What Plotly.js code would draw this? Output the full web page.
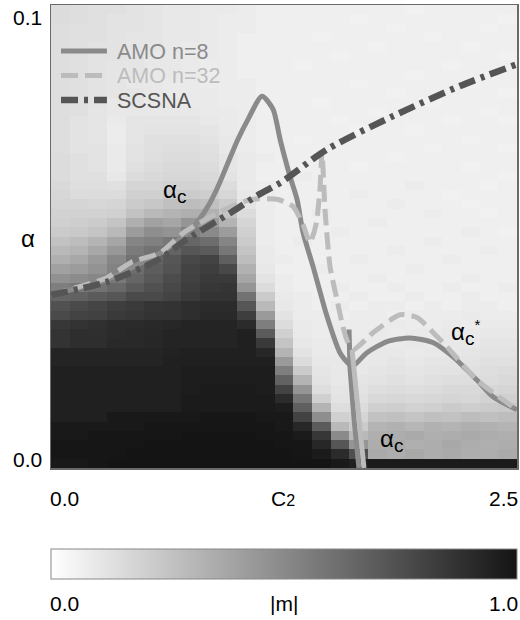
<!DOCTYPE html>
<html>
<head>
<meta charset="utf-8">
<script src="https://cdn.plot.ly/plotly-3.0.1.min.js"></script>
<style>
  html, body { margin: 0; padding: 0; background: #ffffff; }
  #chart { width: 520px; height: 620px; }
</style>
</head>
<body>
<div id="chart"></div>
<script>
// Grid of the simulation: coupling C2 (columns) and load alpha (rows)
const c2Centers = [0.05, 0.15, 0.25, 0.35, 0.45, 0.55, 0.65, 0.75, 0.85, 0.95,
                   1.05, 1.15, 1.25, 1.35, 1.45, 1.55, 1.65, 1.75, 1.85, 1.95,
                   2.05, 2.15, 2.25, 2.35, 2.45];
const alphaCenters = [0.001, 0.003, 0.005, 0.007, 0.009, 0.011, 0.013, 0.015, 0.017, 0.019,
                      0.021, 0.023, 0.025, 0.027, 0.029, 0.031, 0.033, 0.035, 0.037, 0.039,
                      0.041, 0.043, 0.045, 0.047, 0.049, 0.051, 0.053, 0.055, 0.057, 0.059,
                      0.061, 0.063, 0.065, 0.067, 0.069, 0.071, 0.073, 0.075, 0.077, 0.079,
                      0.081, 0.083, 0.085, 0.087, 0.089, 0.091, 0.093, 0.095, 0.097, 0.099];

// Overlap |m|, one row per alpha value (lowest alpha first)
const overlapM = [
  [0.98,0.98,0.99,1,1,1,1,1,1,1,1,1,1,1,1,0.98,0.95,0.97,0.97,0.97,0.97,0.97,0.97,0.97,0.97],
  [0.99,0.99,0.99,0.99,1,1,1,1,1,1,1,1,1,0.99,0.97,0.9,0.75,0.36,0.35,0.37,0.35,0.36,0.34,0.35,0.36],
  [0.99,0.99,0.99,0.99,0.99,1,1,1,1,1,1,1,0.99,0.99,0.92,0.72,0.45,0.35,0.36,0.34,0.35,0.37,0.35,0.34,0.35],
  [0.98,0.98,0.99,0.99,0.99,0.99,0.99,1,1,1,1,0.99,0.99,0.97,0.85,0.5,0.3,0.34,0.35,0.36,0.34,0.35,0.36,0.35,0.34],
  [0.98,0.98,0.98,0.98,0.98,0.99,0.99,0.99,0.99,0.99,0.99,0.99,0.98,0.92,0.7,0.3,0.22,0.32,0.33,0.31,0.33,0.32,0.34,0.33,0.32],
  [0.95,0.95,0.95,0.98,0.98,0.98,0.98,0.98,0.99,0.99,0.99,0.98,0.98,0.8,0.48,0.2,0.18,0.26,0.27,0.25,0.27,0.26,0.28,0.27,0.28],
  [0.95,0.95,0.95,0.95,0.95,0.95,0.95,0.97,0.97,0.97,0.97,0.97,0.96,0.68,0.32,0.14,0.15,0.2,0.21,0.19,0.2,0.22,0.21,0.22,0.23],
  [0.95,0.95,0.95,0.95,0.95,0.95,0.95,0.97,0.97,0.97,0.97,0.97,0.9,0.58,0.2,0.12,0.13,0.16,0.17,0.16,0.17,0.18,0.17,0.19,0.2],
  [0.95,0.95,0.95,0.95,0.95,0.95,0.95,0.96,0.97,0.97,0.97,0.96,0.8,0.45,0.14,0.11,0.12,0.14,0.15,0.14,0.15,0.16,0.16,0.17,0.18],
  [0.95,0.95,0.95,0.95,0.95,0.95,0.95,0.96,0.96,0.96,0.96,0.96,0.67,0.32,0.12,0.1,0.11,0.12,0.13,0.12,0.13,0.14,0.14,0.15,0.16],
  [0.95,0.95,0.95,0.95,0.95,0.95,0.95,0.96,0.96,0.96,0.96,0.96,0.55,0.22,0.11,0.1,0.1,0.11,0.12,0.11,0.12,0.12,0.13,0.14,0.15],
  [0.93,0.93,0.93,0.93,0.93,0.93,0.95,0.95,0.95,0.95,0.95,0.95,0.43,0.15,0.1,0.1,0.1,0.1,0.11,0.1,0.11,0.11,0.12,0.13,0.13],
  [0.93,0.93,0.93,0.93,0.93,0.93,0.94,0.95,0.95,0.95,0.95,0.92,0.32,0.12,0.09,0.09,0.09,0.1,0.1,0.09,0.1,0.1,0.11,0.12,0.12],
  [0.87,0.89,0.89,0.91,0.91,0.92,0.93,0.93,0.93,0.93,0.95,0.84,0.25,0.1,0.09,0.09,0.09,0.09,0.09,0.1,0.09,0.1,0.1,0.11,0.11],
  [0.87,0.89,0.89,0.9,0.91,0.92,0.93,0.93,0.93,0.93,0.95,0.7,0.2,0.09,0.08,0.09,0.08,0.09,0.08,0.09,0.09,0.1,0.09,0.1,0.1],
  [0.85,0.87,0.88,0.9,0.9,0.91,0.92,0.93,0.93,0.93,0.9,0.55,0.15,0.09,0.08,0.08,0.08,0.08,0.09,0.08,0.08,0.09,0.08,0.09,0.09],
  [0.77,0.8,0.81,0.84,0.85,0.87,0.87,0.89,0.91,0.91,0.82,0.43,0.12,0.08,0.08,0.07,0.08,0.08,0.07,0.08,0.08,0.08,0.09,0.08,0.08],
  [0.74,0.77,0.79,0.82,0.84,0.86,0.87,0.89,0.9,0.9,0.72,0.3,0.1,0.08,0.07,0.08,0.07,0.08,0.08,0.07,0.08,0.07,0.08,0.08,0.07],
  [0.66,0.67,0.7,0.72,0.77,0.77,0.8,0.84,0.87,0.87,0.6,0.22,0.09,0.08,0.07,0.07,0.08,0.07,0.07,0.08,0.07,0.07,0.08,0.07,0.07],
  [0.55,0.57,0.6,0.64,0.7,0.74,0.78,0.82,0.85,0.86,0.45,0.15,0.08,0.07,0.07,0.08,0.07,0.07,0.08,0.07,0.07,0.08,0.07,0.07,0.08],
  [0.47,0.49,0.51,0.57,0.65,0.71,0.76,0.81,0.84,0.84,0.38,0.12,0.08,0.07,0.07,0.07,0.07,0.08,0.07,0.07,0.07,0.07,0.08,0.07,0.07],
  [0.4,0.42,0.46,0.53,0.62,0.69,0.73,0.8,0.82,0.78,0.33,0.1,0.07,0.07,0.08,0.07,0.07,0.07,0.07,0.08,0.07,0.07,0.07,0.07,0.07],
  [0.34,0.37,0.43,0.51,0.6,0.66,0.72,0.78,0.8,0.68,0.28,0.09,0.08,0.07,0.07,0.07,0.08,0.07,0.07,0.07,0.07,0.08,0.07,0.07,0.07],
  [0.3,0.32,0.37,0.44,0.56,0.6,0.66,0.72,0.7,0.58,0.25,0.09,0.07,0.07,0.07,0.07,0.07,0.07,0.08,0.07,0.07,0.07,0.07,0.08,0.07],
  [0.26,0.28,0.32,0.38,0.52,0.54,0.58,0.65,0.62,0.52,0.22,0.08,0.07,0.08,0.07,0.07,0.07,0.07,0.07,0.07,0.08,0.07,0.07,0.07,0.07],
  [0.22,0.23,0.25,0.3,0.42,0.48,0.46,0.54,0.5,0.42,0.2,0.08,0.07,0.07,0.07,0.08,0.07,0.07,0.07,0.07,0.07,0.07,0.08,0.07,0.06],
  [0.2,0.21,0.22,0.25,0.34,0.4,0.38,0.45,0.42,0.32,0.18,0.08,0.07,0.07,0.07,0.07,0.07,0.08,0.07,0.07,0.07,0.07,0.07,0.07,0.07],
  [0.19,0.19,0.19,0.2,0.26,0.3,0.32,0.34,0.33,0.25,0.15,0.08,0.07,0.07,0.08,0.07,0.07,0.07,0.07,0.07,0.08,0.07,0.07,0.06,0.07],
  [0.18,0.18,0.17,0.18,0.22,0.24,0.27,0.28,0.27,0.22,0.12,0.08,0.07,0.07,0.07,0.07,0.07,0.07,0.08,0.07,0.07,0.07,0.06,0.07,0.07],
  [0.17,0.15,0.15,0.15,0.2,0.2,0.22,0.22,0.21,0.17,0.1,0.08,0.07,0.07,0.07,0.07,0.08,0.07,0.07,0.07,0.07,0.06,0.07,0.07,0.07],
  [0.16,0.14,0.14,0.13,0.18,0.18,0.19,0.19,0.18,0.15,0.09,0.08,0.07,0.07,0.07,0.07,0.07,0.07,0.07,0.08,0.07,0.07,0.07,0.06,0.07],
  [0.15,0.13,0.13,0.1,0.15,0.16,0.17,0.17,0.16,0.12,0.09,0.07,0.07,0.08,0.07,0.07,0.07,0.07,0.07,0.07,0.07,0.07,0.07,0.07,0.06],
  [0.15,0.13,0.12,0.09,0.13,0.15,0.16,0.16,0.15,0.11,0.09,0.07,0.07,0.07,0.07,0.07,0.06,0.07,0.07,0.07,0.07,0.07,0.06,0.07,0.07],
  [0.15,0.13,0.12,0.09,0.12,0.14,0.15,0.15,0.14,0.11,0.09,0.08,0.07,0.07,0.07,0.07,0.07,0.07,0.06,0.07,0.07,0.07,0.07,0.07,0.07],
  [0.14,0.12,0.12,0.09,0.12,0.13,0.14,0.14,0.13,0.1,0.08,0.07,0.07,0.07,0.07,0.07,0.07,0.07,0.07,0.07,0.06,0.07,0.07,0.07,0.06],
  [0.14,0.12,0.11,0.08,0.11,0.13,0.13,0.13,0.12,0.1,0.08,0.07,0.07,0.06,0.07,0.07,0.07,0.07,0.07,0.07,0.07,0.07,0.06,0.07,0.07],
  [0.14,0.12,0.11,0.08,0.11,0.12,0.12,0.12,0.11,0.09,0.08,0.07,0.07,0.07,0.07,0.07,0.06,0.07,0.07,0.06,0.07,0.07,0.07,0.07,0.07],
  [0.14,0.12,0.11,0.09,0.11,0.11,0.11,0.11,0.1,0.09,0.08,0.07,0.07,0.07,0.07,0.06,0.07,0.07,0.07,0.07,0.07,0.06,0.07,0.07,0.06],
  [0.14,0.13,0.11,0.1,0.1,0.1,0.1,0.1,0.09,0.09,0.08,0.07,0.07,0.07,0.07,0.07,0.07,0.06,0.07,0.07,0.07,0.07,0.07,0.06,0.07],
  [0.14,0.13,0.12,0.1,0.11,0.1,0.1,0.09,0.09,0.08,0.08,0.07,0.07,0.07,0.06,0.07,0.07,0.07,0.07,0.07,0.06,0.07,0.07,0.07,0.07],
  [0.14,0.13,0.12,0.11,0.11,0.1,0.09,0.09,0.09,0.08,0.08,0.07,0.07,0.07,0.07,0.07,0.07,0.07,0.06,0.07,0.07,0.07,0.07,0.07,0.06],
  [0.14,0.13,0.12,0.11,0.1,0.1,0.09,0.09,0.08,0.08,0.08,0.07,0.07,0.07,0.07,0.07,0.06,0.07,0.07,0.07,0.07,0.07,0.06,0.07,0.07],
  [0.14,0.13,0.12,0.11,0.11,0.1,0.1,0.09,0.08,0.08,0.07,0.07,0.07,0.07,0.07,0.07,0.07,0.07,0.07,0.06,0.07,0.07,0.07,0.06,0.07],
  [0.14,0.13,0.12,0.11,0.11,0.1,0.1,0.09,0.08,0.08,0.07,0.07,0.07,0.06,0.07,0.07,0.07,0.07,0.07,0.07,0.07,0.06,0.07,0.07,0.07],
  [0.14,0.13,0.12,0.12,0.11,0.1,0.1,0.09,0.09,0.08,0.07,0.07,0.07,0.07,0.07,0.06,0.07,0.07,0.07,0.07,0.07,0.07,0.07,0.07,0.06],
  [0.14,0.13,0.12,0.12,0.11,0.11,0.1,0.09,0.09,0.08,0.07,0.07,0.07,0.07,0.07,0.07,0.07,0.06,0.07,0.07,0.07,0.07,0.06,0.07,0.07],
  [0.14,0.13,0.13,0.12,0.11,0.11,0.1,0.1,0.09,0.08,0.07,0.07,0.07,0.07,0.06,0.07,0.07,0.07,0.07,0.07,0.06,0.07,0.07,0.07,0.07],
  [0.14,0.13,0.13,0.12,0.12,0.11,0.1,0.1,0.09,0.08,0.08,0.07,0.07,0.07,0.07,0.07,0.07,0.07,0.06,0.07,0.07,0.07,0.07,0.06,0.07],
  [0.15,0.14,0.13,0.12,0.12,0.11,0.1,0.1,0.09,0.08,0.08,0.07,0.07,0.07,0.07,0.07,0.06,0.07,0.07,0.07,0.07,0.07,0.07,0.07,0.06],
  [0.15,0.14,0.13,0.13,0.12,0.11,0.1,0.1,0.09,0.09,0.08,0.07,0.07,0.07,0.07,0.07,0.07,0.07,0.07,0.06,0.07,0.07,0.07,0.07,0.07]
];

// Critical load from the AMO theory, n = 8 (upper branch and the alpha_c* branch)
const amo8C2 = [0, 0.3, 0.413, 0.59, 0.751, 0.842, 0.896, 0.95, 1.003, 1.057, 1.132,
                1.191, 1.229, 1.282, 1.32, 1.352, 1.406, 1.481, 1.55, 1.588, 1.615,
                1.695, 1.803, 1.926, 2.049, 2.157, 2.285, 2.371, 2.5];
const amo8Alpha = [0.0374, 0.0407, 0.0429, 0.0465, 0.0515, 0.0565, 0.0608, 0.066, 0.071, 0.0753, 0.0803,
                   0.0775, 0.071, 0.063, 0.058, 0.0509, 0.0435, 0.0327, 0.0249, 0.0229, 0.0219,
                   0.0249, 0.0273, 0.0281, 0.0271, 0.024, 0.019, 0.0154, 0.0126];
// n = 8, lower alpha_c branch
const amo8LowC2 = [1.599, 1.604, 1.626, 1.652];
const amo8LowAlpha = [0.0299, 0.0216, 0.0104, 0.0];

// Critical load from the AMO theory, n = 32
const amo32C2 = [0, 0.3, 0.429, 0.585, 0.714, 0.928, 1.073, 1.218, 1.298, 1.352, 1.389,
                 1.422, 1.443, 1.454, 1.47, 1.497, 1.534, 1.566, 1.593, 1.62,
                 1.727, 1.872, 1.964, 2.071, 2.124, 2.285, 2.5];
const amo32Alpha = [0.0374, 0.0411, 0.0444, 0.0465, 0.0509, 0.0558, 0.058, 0.058, 0.0565, 0.0526, 0.0487,
                    0.0526, 0.0602, 0.0682, 0.0558, 0.0435, 0.0364, 0.0305, 0.0271, 0.0255,
                    0.0292, 0.0331, 0.0325, 0.0284, 0.0262, 0.019, 0.0126];
// n = 32, lower alpha_c branch
const amo32LowC2 = [1.615, 1.642, 1.679];
const amo32LowAlpha = [0.0255, 0.0147, 0.0];

// Self-consistent signal-to-noise analysis
const scsnaC2 = [0, 0.3, 0.585, 0.714, 0.966, 1.121, 1.234, 1.481, 1.835, 2.194, 2.5];
const scsnaAlpha = [0.0374, 0.0402, 0.0452, 0.049, 0.0552, 0.0592, 0.0617, 0.0688, 0.076, 0.0825, 0.0872];

const FONT = 'Liberation Sans, Arial, Helvetica, sans-serif';
const C8 = '#8a8a8a', C32 = '#bcbcbc', CS = '#555555';
const DASH32 = '17px,7px', DASHS = '17px,6px,4px,6px';

const traces = [
  {
    type: 'heatmap', x: c2Centers, y: alphaCenters, z: overlapM,
    zmin: 0, zmax: 1, zsmooth: false,
    colorscale: [[0, '#ffffff'], [1, '#141414']],
    showscale: true,
    colorbar: {
      orientation: 'h', x: 0.5, xanchor: 'center', xref: 'paper',
      y: -0.175, yanchor: 'top', yref: 'paper',
      len: 466, lenmode: 'pixels', thickness: 30, thicknessmode: 'pixels',
      xpad: 0, ypad: 0, outlinewidth: 1, outlinecolor: '#888888',
      showticklabels: false, ticks: ''
    },
    hoverinfo: 'skip'
  },
  { type: 'scatter', mode: 'lines', x: amo8C2, y: amo8Alpha, name: 'AMO n=8',
    line: { color: C8, width: 5, shape: 'spline', smoothing: 0.7 } },
  { type: 'scatter', mode: 'lines', x: amo8LowC2, y: amo8LowAlpha, showlegend: false,
    line: { color: C8, width: 5 } },
  { type: 'scatter', mode: 'lines', x: amo32C2, y: amo32Alpha, name: 'AMO n=32',
    line: { color: C32, width: 5, dash: DASH32, shape: 'spline', smoothing: 0.6 } },
  { type: 'scatter', mode: 'lines', x: amo32LowC2, y: amo32LowAlpha, showlegend: false,
    line: { color: C32, width: 5 } },
  { type: 'scatter', mode: 'lines', x: scsnaC2, y: scsnaAlpha, name: 'SCSNA',
    line: { color: CS, width: 6.5, dash: DASHS, shape: 'spline', smoothing: 0.8 } }
];

function txt(text, x, y, xref, yref, size, color, xanchor, yanchor) {
  return { text: text, x: x, y: y, xref: xref, yref: yref, showarrow: false,
           xanchor: xanchor || 'center', yanchor: yanchor || 'middle', borderpad: 0,
           font: { family: FONT, size: size, color: color || '#000000' } };
}

// Legend drawn inside the top-left corner of the plot
const legendRows = [
  { label: 'AMO n=8', color: C8, dash: 'solid', width: 5, y: 0.9006 },
  { label: 'AMO n=32', color: C32, dash: DASH32, width: 5, y: 0.8477 },
  { label: 'SCSNA', color: CS, dash: DASHS, width: 6.5, y: 0.7948 }
];
const shapes = legendRows.map(r => ({
  type: 'line', xref: 'paper', yref: 'paper', x0: 0.0215, x1: 0.12, y0: r.y, y1: r.y,
  line: { color: r.color, width: r.width, dash: r.dash }
}));
const annotations = legendRows.map(r =>
  txt(r.label, 0.139, r.y - 0.002, 'paper', 'paper', 21.5, r.color, 'left', 'middle'));

// alpha with a subscript c of nearly the same size
const ALPHA_C = 'α<sub><span style="font-size:19px">c</span></sub>';

annotations.push(
  // curve labels
  txt(ALPHA_C, 0.665, 0.0598, 'x', 'y', 24),
  txt(ALPHA_C + '<sup><span style="font-size:15px">*</span></sup>', 2.225, 0.0292, 'x', 'y', 24),
  txt(ALPHA_C, 1.826, 0.0059, 'x', 'y', 24),
  // axis labels
  txt('0.1', -0.017, 0.974, 'paper', 'paper', 21, '#000', 'right', 'middle'),
  txt('0.0', -0.017, 0.0173, 'paper', 'paper', 21, '#000', 'right', 'middle'),
  txt('α', -0.049, 0.495, 'paper', 'paper', 24, '#000', 'center', 'middle'),
  txt('0.0', -0.004, -0.0648, 'paper', 'paper', 21, '#000', 'left', 'middle'),
  txt('2.5', 1.004, -0.0648, 'paper', 'paper', 21, '#000', 'right', 'middle'),
  txt('C<span style="font-size:16px">2</span>', 0.498, -0.0648, 'paper', 'paper', 21, '#000', 'center', 'middle'),
  // colour bar labels
  txt('0.0', -0.004, -0.2916, 'paper', 'paper', 21, '#000', 'left', 'middle'),
  txt('|m|', 0.5, -0.2916, 'paper', 'paper', 21, '#000', 'center', 'middle'),
  txt('1.0', 1.004, -0.2916, 'paper', 'paper', 21, '#000', 'right', 'middle')
);

const axisCommon = {
  showgrid: false, zeroline: false, ticks: '', showticklabels: false,
  showline: true, mirror: true, linecolor: '#6a6a6a', linewidth: 1.5
};

const layout = {
  width: 520, height: 620,
  margin: { l: 51, r: 3, t: 5, b: 152, pad: 0 },
  paper_bgcolor: '#ffffff', plot_bgcolor: '#ffffff',
  showlegend: false,
  font: { family: FONT, size: 21, color: '#000000' },
  xaxis: Object.assign({ range: [0, 2.5] }, axisCommon),
  yaxis: Object.assign({ range: [0, 0.1] }, axisCommon),
  shapes: shapes,
  annotations: annotations
};

Plotly.newPlot('chart', traces, layout, { staticPlot: true, displayModeBar: false });
</script>
</body>
</html>
